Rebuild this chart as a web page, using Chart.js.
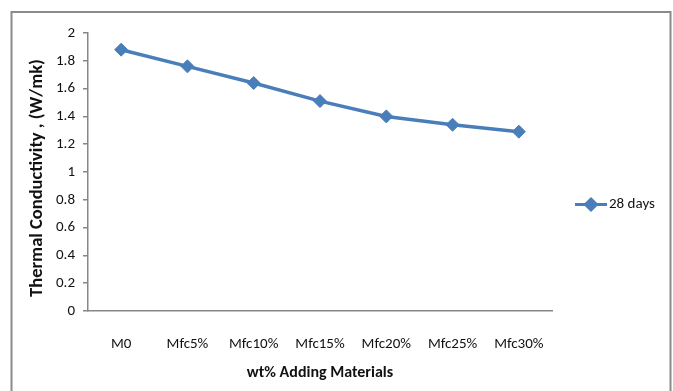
<!DOCTYPE html>
<html>
<head>
<meta charset="utf-8">
<script src="https://cdn.jsdelivr.net/npm/chart.js@4/dist/chart.umd.min.js"></script>
<style>
  html, body { margin: 0; padding: 0; background: #fff; }
  #wrap { width: 673px; height: 391px; }
</style>
</head>
<body>
<div id="wrap"><canvas id="c" width="673" height="391"></canvas></div>
<script>
// Thermal conductivity after 28 days for each mix
const categories = ['M0', 'Mfc5%', 'Mfc10%', 'Mfc15%', 'Mfc20%', 'Mfc25%', 'Mfc30%'];
const seriesName = '28 days';
const conductivity = [1.88, 1.76, 1.64, 1.51, 1.40, 1.34, 1.29];
const yTickLabels = ['0', '0.2', '0.4', '0.6', '0.8', '1', '1.2', '1.4', '1.6', '1.8', '2'];
const yTitle = 'Thermal Conductivity , (W/mk)';
const xTitle = 'wt% Adding Materials';

const FONT = "Carlito, 'Liberation Sans Narrow', Lato, sans-serif";
const BLUE = '#4A7EBB';
const AXIS = '#878787';
const INK = '#111';

// Outer frame around the whole chart
const framePlugin = {
  id: 'frame',
  beforeDraw(chart) {
    const ctx = chart.ctx;
    ctx.save();
    ctx.fillStyle = '#fff';
    ctx.fillRect(0, 0, chart.width, chart.height);
    ctx.strokeStyle = '#8a8a8a';
    ctx.lineWidth = 2;
    ctx.strokeRect(11.5, 12, 659, 400);
    ctx.restore();
  }
};

// Vertical axis title, centred a little below the middle of the plot
const yTitlePlugin = {
  id: 'yTitle',
  afterDraw(chart) {
    const ctx = chart.ctx;
    ctx.save();
    ctx.translate(37, 178);
    ctx.rotate(-Math.PI / 2);
    ctx.fillStyle = INK;
    ctx.font = 'bold 18.5px ' + FONT;
    ctx.textAlign = 'center';
    ctx.textBaseline = 'middle';
    ctx.fillText(yTitle, 0, 0);
    ctx.restore();
  }
};

// Legend entry on the right: line segment with a diamond, then the series name
const sideLegend = {
  id: 'sideLegend',
  afterDraw(chart) {
    const ds = chart.data.datasets[0];
    const ctx = chart.ctx;
    const y = 204.5;
    ctx.save();
    ctx.strokeStyle = ds.borderColor;
    ctx.lineWidth = 3;
    ctx.beginPath();
    ctx.moveTo(575, y);
    ctx.lineTo(607, y);
    ctx.stroke();
    ctx.fillStyle = ds.pointBackgroundColor;
    ctx.strokeStyle = ds.pointBorderColor;
    Chart.helpers.drawPoint(ctx, { pointStyle: 'rectRot', radius: 5.5, borderWidth: 1 }, 591, y);
    ctx.fillStyle = INK;
    ctx.font = '15px ' + FONT;
    ctx.textBaseline = 'middle';
    ctx.textAlign = 'left';
    ctx.fillText(ds.label, 609, y);
    ctx.restore();
  }
};

new Chart(document.getElementById('c'), {
  type: 'line',
  data: {
    labels: categories,
    datasets: [{
      label: seriesName,
      data: conductivity,
      borderColor: BLUE,
      backgroundColor: BLUE,
      borderWidth: 3.5,
      pointStyle: 'rectRot',
      pointRadius: 6.5,
      pointHoverRadius: 6.5,
      pointBackgroundColor: BLUE,
      pointBorderColor: BLUE,
      pointBorderWidth: 1,
      tension: 0,
      fill: false
    }]
  },
  options: {
    responsive: false,
    animation: false,
    events: [],
    layout: { padding: { left: 0, right: 121, top: 33, bottom: 0 } },
    plugins: {
      legend: { display: false },
      tooltip: { enabled: false }
    },
    scales: {
      x: {
        type: 'category',
        offset: true,
        grid: { display: false, drawTicks: false },
        border: { display: true, color: AXIS, width: 1.5 },
        ticks: { color: INK, font: { family: FONT, size: 15 }, padding: 24, maxRotation: 0 },
        title: { display: true, text: xTitle, color: INK,
                 font: { family: FONT, size: 16, weight: 'bold' }, padding: { top: 0, bottom: 8 } },
        afterFit(scale) { scale.height = 80; }
      },
      y: {
        min: 0, max: 2,
        ticks: {
          stepSize: 0.2, color: INK, padding: 8,
          font: { family: FONT, size: 15 },
          callback: (v, i) => yTickLabels[i]
        },
        grid: { drawOnChartArea: false, drawTicks: true, tickLength: 5, color: AXIS, lineWidth: 1.5 },
        border: { display: true, color: AXIS, width: 1.5 },
        title: { display: false },
        afterFit(scale) { scale.width = 88; }
      }
    }
  },
  plugins: [framePlugin, yTitlePlugin, sideLegend]
});
</script>
</body>
</html>
